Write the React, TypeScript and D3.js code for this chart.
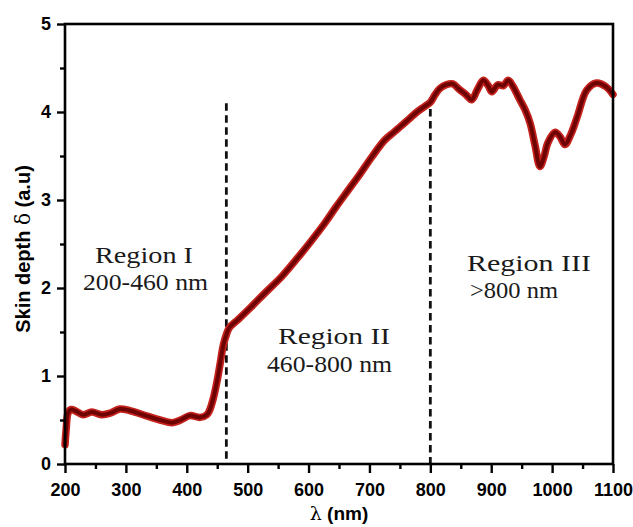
import React, { useEffect, useRef } from "react";
import * as d3 from "d3";

const wavelengths = [200,202,205,210,218,230,244,261,275,290,305,328,356,376,390,405,422,433,438,443,450,455,460,465,470,484,505,528,556,583,605,627,645,665,685,704,725,740,750,765,778,790,800,808,816,826,837,847,858,868,877,887,895,901,911,920,928,935,947,956,964,972,980,987,993,1005,1013,1021,1031,1041,1057,1073,1088,1100];
const skinDepth = [0.22,0.4,0.58,0.62,0.6,0.56,0.59,0.56,0.58,0.625,0.61,0.56,0.5,0.47,0.5,0.55,0.53,0.56,0.62,0.73,0.95,1.15,1.35,1.47,1.55,1.64,1.78,1.94,2.13,2.35,2.54,2.74,2.92,3.11,3.3,3.49,3.68,3.77,3.83,3.92,4.0,4.06,4.11,4.2,4.27,4.31,4.32,4.26,4.2,4.14,4.25,4.36,4.3,4.23,4.31,4.3,4.36,4.3,4.14,4.02,3.87,3.62,3.38,3.5,3.65,3.77,3.72,3.63,3.75,3.94,4.25,4.33,4.29,4.2];

const xTicks = [200,300,400,500,600,700,800,900,1000,1100];
const xMinor = [250,350,450,550,650,750,850,950,1050];
const yTicks = [0,1,2,3,4,5];
const yMinor = [0.5,1.5,2.5,3.5,4.5];

const dividerX = [465, 800];
const dividerTop = [4.1, 4.17];

const regionLines = [
  ["Region I", "200-460 nm"],
  ["Region II", "460-800 nm"],
  ["Region III", ">800 nm"],
];

export default function App() {
  const ref = useRef<SVGSVGElement>(null);
  useEffect(() => {
    const svg = d3.select(ref.current);
    svg.selectAll("*").remove();
    const W = 633, H = 527;
    const m = { left: 65, right: 613, top: 24, bottom: 464 };
    const x = d3.scaleLinear().domain([200, 1100]).range([m.left, m.right]);
    const y = d3.scaleLinear().domain([0, 5]).range([m.bottom, m.top]);

    svg.append("rect").attr("width", W).attr("height", H).attr("fill", "#fff");

    // dashed dividers
    dividerX.forEach((dx, i) => {
      svg.append("line")
        .attr("x1", x(dx)).attr("x2", x(dx))
        .attr("y1", y(dividerTop[i])).attr("y2", y(0))
        .attr("stroke", "#111").attr("stroke-width", 2.8)
        .attr("stroke-dasharray", "7.5,4.5");
    });

    // curve
    const data = wavelengths.map((w, i) => [w, skinDepth[i]] as [number, number]);
    const line = d3.line<[number, number]>()
      .x(d => x(d[0])).y(d => y(d[1]))
      .curve(d3.curveCatmullRom.alpha(0.5));
    svg.append("path").attr("d", line(data)).attr("fill", "none")
      .attr("stroke", "#c4221c").attr("stroke-width", 7.5)
      .attr("stroke-linejoin", "round").attr("stroke-linecap", "round");
    svg.append("path").attr("d", line(data)).attr("fill", "none")
      .attr("stroke", "#6e0303").attr("stroke-width", 4)
      .attr("stroke-linejoin", "round").attr("stroke-linecap", "round");

    // frame
    svg.append("rect")
      .attr("x", m.left).attr("y", m.top)
      .attr("width", m.right - m.left).attr("height", m.bottom - m.top)
      .attr("fill", "none").attr("stroke", "#000").attr("stroke-width", 2.6);

    const tickFont = "'Liberation Sans', Arial, sans-serif";

    // bottom axis
    const gx = svg.append("g").attr("transform", `translate(0,${m.bottom})`);
    gx.call(d3.axisBottom(x).tickValues(xTicks).tickSize(9).tickSizeOuter(0).tickPadding(10).tickFormat(d3.format("d")) as any);
    gx.select(".domain").remove();
    gx.selectAll(".tick line").attr("stroke", "#000").attr("stroke-width", 2.4);
    gx.selectAll(".tick text").attr("font-family", tickFont).attr("font-weight", "bold")
      .attr("font-size", 18).attr("fill", "#000");
    const gxm = svg.append("g").attr("transform", `translate(0,${m.bottom})`);
    gxm.call(d3.axisBottom(x).tickValues(xMinor).tickSize(5).tickFormat(() => "") as any);
    gxm.select(".domain").remove();
    gxm.selectAll(".tick line").attr("stroke", "#000").attr("stroke-width", 2.4);

    // left axis
    const gy = svg.append("g").attr("transform", `translate(${m.left},0)`);
    gy.call(d3.axisLeft(y).tickValues(yTicks).tickSize(8).tickSizeOuter(0).tickPadding(6).tickFormat(d3.format("d")) as any);
    gy.select(".domain").remove();
    gy.selectAll(".tick line").attr("stroke", "#000").attr("stroke-width", 2.4);
    gy.selectAll(".tick text").attr("font-family", tickFont).attr("font-weight", "bold")
      .attr("font-size", 18).attr("fill", "#000");
    const gym = svg.append("g").attr("transform", `translate(${m.left},0)`);
    gym.call(d3.axisLeft(y).tickValues(yMinor).tickSize(5).tickFormat(() => "") as any);
    gym.select(".domain").remove();
    gym.selectAll(".tick line").attr("stroke", "#000").attr("stroke-width", 2.4);

    // axis titles
    const yt = svg.append("text")
      .attr("transform", `translate(30,${249}) rotate(-90)`)
      .attr("text-anchor", "middle")
      .attr("font-family", tickFont).attr("font-weight", "bold").attr("font-size", 20).attr("fill", "#000");
    yt.append("tspan").text("Skin depth ");
    yt.append("tspan").attr("font-family", "'DejaVu Serif', serif").attr("font-weight", "normal").text("δ");
    yt.append("tspan").text(" (a.u)");

    const xt = svg.append("text")
      .attr("x", 339).attr("y", 520)
      .attr("text-anchor", "middle")
      .attr("font-family", tickFont).attr("font-weight", "bold").attr("font-size", 19).attr("fill", "#000");
    xt.append("tspan").attr("font-family", "'DejaVu Serif', serif").attr("font-weight", "normal").text("λ");
    xt.append("tspan").text(" (nm)");

    // region labels
    const labelPos = [
      [[95, 263, 98], [83, 290, 125]],
      [[278, 344, 112], [267, 372, 125]],
      [[467, 271, 124], [470, 298, 88]],
    ];
    regionLines.forEach((lines, i) => {
      lines.forEach((t, j) => {
        const [lx, ly, lw] = labelPos[i][j];
        svg.append("text").attr("x", lx).attr("y", ly)
          .attr("font-family", "'Liberation Serif', 'Times New Roman', serif")
          .attr("font-size", 24).attr("fill", "#1a1a1a")
          .attr("textLength", lw).attr("lengthAdjust", "spacingAndGlyphs")
          .text(t);
      });
    });
  }, []);
  return (
    <svg ref={ref} width={633} height={527}
      style={{ position: "absolute", left: 0, top: 0, display: "block" }} />
  );
}
